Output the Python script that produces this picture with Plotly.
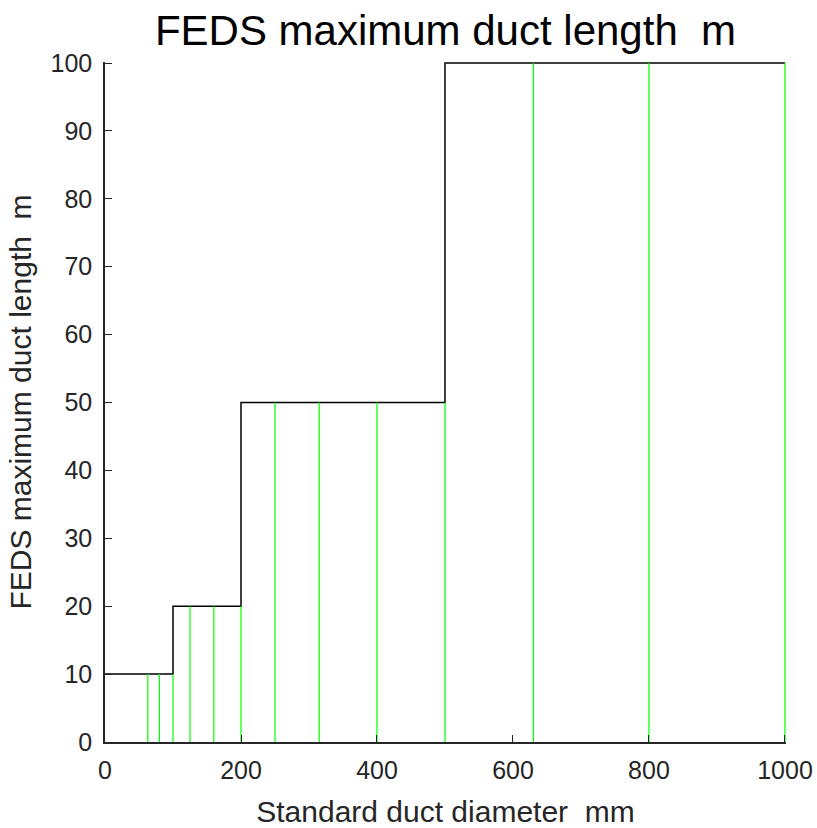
import plotly.graph_objects as go

# Step function: upper diameter limits and max lengths
step_diam = [0, 100, 200, 500, 1000]
step_len = [10, 20, 50, 100, 100]

# Standard duct diameters and their max length
std_diam = [63, 80, 100, 125, 160, 200, 250, 315, 400, 500, 630, 800, 1000]
std_len = [10, 10, 10, 20, 20, 20, 50, 50, 50, 50, 100, 100, 100]

xticks = [0, 200, 400, 600, 800, 1000]
yticks = [0, 10, 20, 30, 40, 50, 60, 70, 80, 90, 100]

gx, gy = [], []
for d, L in zip(std_diam, std_len):
    gx += [d, d, None]
    gy += [0, L, None]

fig = go.Figure()
fig.add_trace(go.Scatter(x=step_diam, y=step_len, mode="lines",
                         line=dict(color="black", width=1.5, shape="hv"),
                         showlegend=False, hoverinfo="skip"))
fig.add_trace(go.Scatter(x=gx, y=gy, mode="lines",
                         line=dict(color="#00ff00", width=1.2),
                         showlegend=False, hoverinfo="skip"))

fontfam = "Liberation Sans, Arial, sans-serif"
fig.update_layout(
    width=817, height=828,
    margin=dict(l=105, r=31, t=62, b=86, autoexpand=False),
    paper_bgcolor="white", plot_bgcolor="white",
    font=dict(family=fontfam, color="#262626", size=25),
    title=dict(text="FEDS maximum duct length \u00a0m", x=0.5, xref="paper", xanchor="center",
               y=1 - 30 / 828, yanchor="middle",
               font=dict(size=42, color="black", family=fontfam)),
    xaxis=dict(range=[0, 1001.5], tickvals=xticks, ticks="inside", ticklen=7,
               tickcolor="#262626", showline=True, linecolor="#262626", linewidth=1.5,
               showgrid=False, zeroline=False, automargin=False, ticklabelstandoff=5,
               title=dict(text="Standard duct diameter \u00a0mm", font=dict(size=30), standoff=18)),
    yaxis=dict(range=[0, 100.15], tickvals=yticks, ticks="inside", ticklen=7,
               tickcolor="#262626", showline=True, linecolor="#262626", linewidth=1.5,
               showgrid=False, zeroline=False, automargin=False, ticklabelstandoff=6,
               title=dict(text="FEDS maximum duct length \u00a0m", font=dict(size=30), standoff=10)),
)

fig.write_html("out.html", config={"displayModeBar": False})

with open("out.html", "r", encoding="utf-8") as f:
    html = f.read()
html = html.replace("<head>", "<head><style>html,body{margin:0;padding:0;overflow:hidden}</style>", 1)
with open("out.html", "w", encoding="utf-8") as f:
    f.write(html)
